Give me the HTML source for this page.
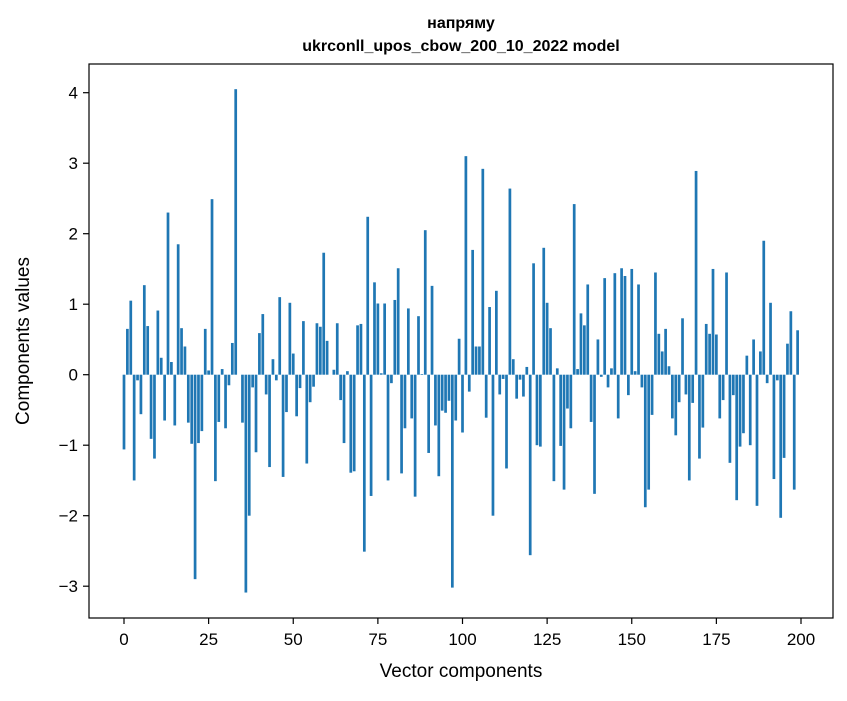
<!DOCTYPE html>
<html><head><meta charset="utf-8">
<style>
body{margin:0;background:#fff;}
svg text{font-family:"Liberation Sans","DejaVu Sans",sans-serif;fill:#000;}
</style></head>
<body>
<svg id="chart" width="847" height="696" viewBox="0 0 847 696" xmlns="http://www.w3.org/2000/svg">
<rect x="0" y="0" width="847" height="696" fill="#fff"/>
<text x="461" y="28" text-anchor="middle" font-size="16" font-weight="bold">напряму</text>
<text x="461" y="51" text-anchor="middle" font-size="16" font-weight="bold">ukrconll_upos_cbow_200_10_2022 model</text>
<g id="bars"></g>
<g id="xticks"></g>
<g id="yticks"></g>
<rect x="89" y="64" width="744" height="554" fill="none" stroke="#000" stroke-width="1.2"/>
<text x="461" y="677" text-anchor="middle" font-size="19">Vector components</text>
<text x="0" y="0" transform="translate(29,341) rotate(-90)" text-anchor="middle" font-size="19">Components values</text>
</svg>
<script>
const values = [
-1.06,0.65,1.05,-1.50,-0.08,-0.56,1.27,0.69,-0.91,-1.19,
0.91,0.24,-0.65,2.30,0.18,-0.72,1.85,0.66,0.40,-0.68,
-0.98,-2.90,-0.97,-0.80,0.65,0.06,2.49,-1.51,-0.67,0.08,
-0.76,-0.15,0.45,4.05,0.00,-0.68,-3.09,-2.00,-0.18,-1.10,
0.59,0.86,-0.28,-1.31,0.22,-0.08,1.10,-1.45,-0.53,1.02,
0.30,-0.59,-0.19,0.76,-1.26,-0.39,-0.17,0.73,0.68,1.73,
0.48,0.00,0.07,0.73,-0.36,-0.97,0.05,-1.39,-1.37,0.70,
0.72,-2.51,2.24,-1.72,1.31,1.01,0.02,1.01,-1.50,-0.12,
1.06,1.51,-1.40,-0.76,0.94,-0.62,-1.73,0.83,0.01,2.05,
-1.11,1.26,-0.72,-1.44,-0.51,-0.54,-0.37,-3.02,-0.65,0.51,
-0.82,3.10,-0.24,1.77,0.40,0.40,2.92,-0.61,0.96,-2.00,
1.19,-0.28,-0.06,-1.33,2.64,0.22,-0.34,-0.07,-0.31,0.11,
-2.56,1.58,-1.00,-1.02,1.80,1.02,0.66,-1.51,0.09,-1.01,
-1.63,-0.48,-0.76,2.42,0.08,0.87,0.70,1.28,-0.67,-1.69,
0.50,-0.03,1.37,-0.18,0.09,1.44,-0.62,1.51,1.40,-0.29,
1.50,0.05,1.28,-0.18,-1.88,-1.63,-0.57,1.45,0.58,0.33,
0.65,0.12,-0.62,-0.86,-0.39,0.80,-0.28,-1.50,-0.40,2.89,
-1.19,-0.75,0.72,0.58,1.50,0.57,-0.62,-0.36,1.45,-1.25,
-0.29,-1.78,-1.02,-0.83,0.27,-1.00,0.50,-1.86,0.33,1.90,
-0.12,1.02,-1.48,-0.08,-2.03,-1.18,0.44,0.90,-1.63,0.63
];
const xTickValues = [0,25,50,75,100,125,150,175,200];
const yTickValues = [-3,-2,-1,0,1,2,3,4];
const yTickLabels = ["\u22123","\u22122","\u22121","0","1","2","3","4"];

const X0 = 124, XS = 3.385;
const Y0 = 374.7, YS = 70.5;
function xScale(v){ return X0 + v * XS; }
function yScale(v){ return Y0 - v * YS; }
const NS = "http://www.w3.org/2000/svg";
const barsG = document.getElementById('bars');
const bw = 0.8 * XS;
values.forEach(function(v, i){
  const r = document.createElementNS(NS, 'rect');
  const y1 = yScale(Math.max(v, 0)), y2 = yScale(Math.min(v, 0));
  r.setAttribute('x', (xScale(i) - bw / 2).toFixed(2));
  r.setAttribute('y', y1.toFixed(2));
  r.setAttribute('width', bw.toFixed(2));
  r.setAttribute('height', Math.max(y2 - y1, 0).toFixed(2));
  r.setAttribute('fill', '#1f77b4');
  
  
  barsG.appendChild(r);
});
const xg = document.getElementById('xticks');
xTickValues.forEach(function(t){
  const x = xScale(t);
  const l = document.createElementNS(NS, 'line');
  l.setAttribute('x1', x); l.setAttribute('x2', x);
  l.setAttribute('y1', 618); l.setAttribute('y2', 624);
  l.setAttribute('stroke', '#000'); l.setAttribute('stroke-width', '1.2');
  
  
  xg.appendChild(l);
  const tx = document.createElementNS(NS, 'text');
  tx.setAttribute('x', x); tx.setAttribute('y', 645);
  tx.setAttribute('text-anchor', 'middle'); tx.setAttribute('font-size', '17');
  tx.textContent = String(t);
  
  
  xg.appendChild(tx);
});
const yg = document.getElementById('yticks');
yTickValues.forEach(function(t, k){
  const y = yScale(t);
  const l = document.createElementNS(NS, 'line');
  l.setAttribute('x1', 83); l.setAttribute('x2', 89);
  l.setAttribute('y1', y); l.setAttribute('y2', y);
  l.setAttribute('stroke', '#000'); l.setAttribute('stroke-width', '1.2');
  
  
  yg.appendChild(l);
  const tx = document.createElementNS(NS, 'text');
  tx.setAttribute('x', 78); tx.setAttribute('y', y + 6);
  tx.setAttribute('text-anchor', 'end'); tx.setAttribute('font-size', '17');
  tx.textContent = yTickLabels[k];
  
  
  yg.appendChild(tx);
});
</script>
</body></html>
